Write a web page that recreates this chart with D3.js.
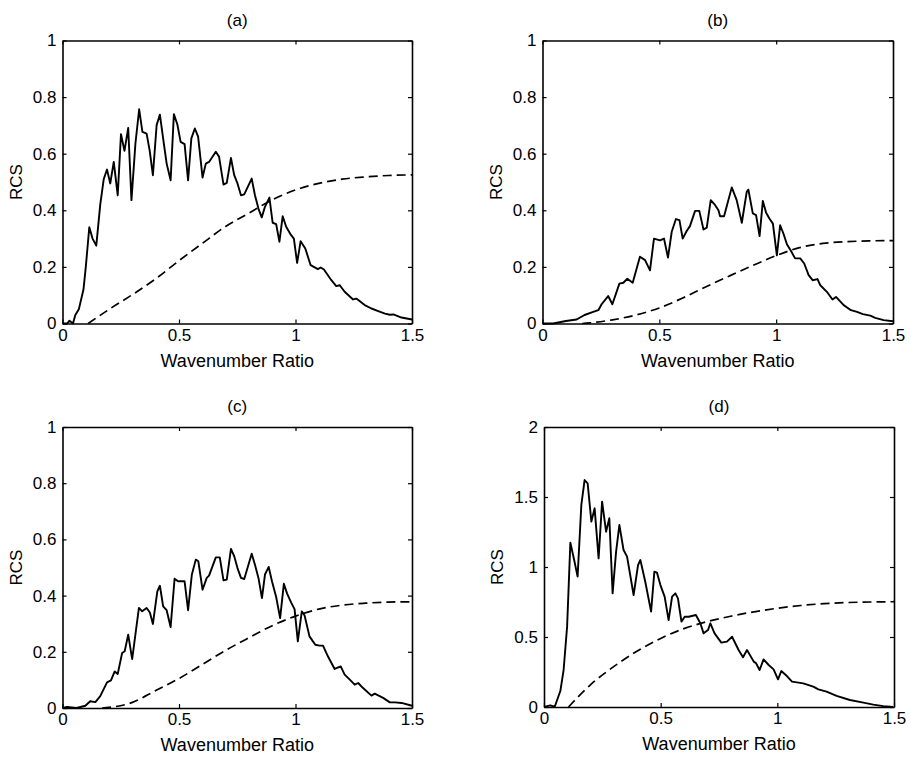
<!DOCTYPE html>
<html>
<head>
<meta charset="utf-8">
<script src="https://cdn.jsdelivr.net/npm/d3@7"></script>
<style>
  body { margin: 0; background: #fff; }
  svg text { font-family: "Liberation Sans", Arial, Helvetica, sans-serif; fill: #000; }
</style>
</head>
<body>
<svg id="chart" width="911" height="763"></svg>
<script>
const xTicks = [0, 0.5, 1, 1.5];
const yTicksSmall = [0, 0.2, 0.4, 0.6, 0.8, 1];
const yTicksLarge = [0, 0.5, 1, 1.5, 2];
const titles = ['(a)', '(b)', '(c)', '(d)'];
const xLabel = 'Wavenumber Ratio';
const yLabel = 'RCS';

// solid curves as [ratio, rcs]
const solidA = [[0,0],[0.02,0],[0.03,0.01],[0.045,0],[0.055,0.03],[0.07,0.05],[0.09,0.12],[0.1,0.2],
  [0.115,0.34],[0.129,0.3],[0.145,0.275],[0.162,0.42],[0.177,0.51],[0.191,0.544],[0.205,0.495],
  [0.22,0.571],[0.237,0.453],[0.251,0.669],[0.266,0.61],[0.282,0.691],[0.296,0.436],[0.313,0.636],
  [0.329,0.757],[0.343,0.677],[0.361,0.671],[0.374,0.612],[0.388,0.524],[0.404,0.701],[0.418,0.738],
  [0.435,0.636],[0.447,0.565],[0.464,0.506],[0.478,0.74],[0.493,0.703],[0.507,0.642],[0.524,0.634],
  [0.539,0.506],[0.553,0.654],[0.568,0.689],[0.582,0.66],[0.601,0.516],[0.615,0.565],[0.629,0.571],
  [0.658,0.607],[0.672,0.589],[0.691,0.491],[0.705,0.497],[0.723,0.585],[0.737,0.524],[0.751,0.495],
  [0.766,0.453],[0.78,0.456],[0.812,0.512],[0.826,0.453],[0.841,0.406],[0.855,0.375],[0.868,0.41],
  [0.888,0.445],[0.902,0.356],[0.917,0.351],[0.931,0.289],[0.945,0.379],[0.96,0.342],[0.978,0.316],
  [0.993,0.3],[1.007,0.214],[1.022,0.291],[1.042,0.265],[1.065,0.206],[1.096,0.192],[1.108,0.198],
  [1.122,0.191],[1.154,0.153],[1.175,0.132],[1.19,0.135],[1.211,0.112],[1.247,0.085],[1.261,0.088],
  [1.297,0.065],[1.326,0.053],[1.355,0.044],[1.384,0.035],[1.405,0.031],[1.42,0.032],[1.455,0.021],[1.5,0.014]];

const solidB = [[0,0],[0.046,0],[0.1,0.009],[0.146,0.014],[0.18,0.03],[0.217,0.041],[0.239,0.047],
  [0.253,0.068],[0.281,0.097],[0.299,0.068],[0.329,0.141],[0.346,0.144],[0.363,0.158],[0.386,0.144],
  [0.417,0.236],[0.439,0.224],[0.46,0.188],[0.477,0.3],[0.503,0.294],[0.52,0.3],[0.537,0.233],
  [0.553,0.324],[0.571,0.369],[0.586,0.365],[0.6,0.3],[0.617,0.327],[0.631,0.344],[0.653,0.398],
  [0.671,0.398],[0.689,0.332],[0.703,0.339],[0.72,0.436],[0.739,0.418],[0.753,0.4],[0.76,0.379],
  [0.777,0.379],[0.81,0.481],[0.831,0.436],[0.853,0.356],[0.874,0.465],[0.881,0.473],[0.9,0.389],
  [0.914,0.383],[0.929,0.309],[0.943,0.433],[0.957,0.391],[0.971,0.371],[0.986,0.353],[1.003,0.241],
  [1.017,0.347],[1.031,0.318],[1.046,0.28],[1.063,0.257],[1.081,0.23],[1.103,0.23],[1.12,0.212],
  [1.139,0.171],[1.156,0.153],[1.177,0.157],[1.189,0.135],[1.217,0.112],[1.241,0.085],[1.256,0.094],
  [1.289,0.065],[1.32,0.047],[1.346,0.041],[1.371,0.033],[1.403,0.028],[1.424,0.02],[1.46,0.012],[1.5,0.008]];

const solidC = [[0,0],[0.02,0.004],[0.06,0],[0.098,0.008],[0.119,0.024],[0.141,0.021],[0.162,0.042],
  [0.191,0.091],[0.208,0.098],[0.224,0.13],[0.237,0.121],[0.256,0.196],[0.267,0.202],[0.282,0.261],
  [0.299,0.174],[0.328,0.356],[0.342,0.344],[0.361,0.356],[0.375,0.34],[0.388,0.299],[0.407,0.415],
  [0.418,0.435],[0.432,0.362],[0.447,0.348],[0.464,0.288],[0.481,0.46],[0.496,0.451],[0.524,0.451],
  [0.539,0.348],[0.555,0.474],[0.572,0.528],[0.583,0.522],[0.601,0.421],[0.619,0.463],[0.629,0.471],
  [0.658,0.536],[0.675,0.536],[0.691,0.454],[0.705,0.457],[0.723,0.566],[0.737,0.54],[0.751,0.498],
  [0.766,0.463],[0.78,0.459],[0.812,0.549],[0.826,0.51],[0.841,0.463],[0.856,0.391],[0.869,0.475],
  [0.885,0.502],[0.899,0.451],[0.917,0.395],[0.934,0.32],[0.95,0.442],[0.964,0.407],[0.981,0.376],
  [0.996,0.352],[1.01,0.237],[1.027,0.344],[1.039,0.329],[1.06,0.255],[1.085,0.225],[1.103,0.222],
  [1.118,0.222],[1.139,0.184],[1.168,0.139],[1.194,0.148],[1.211,0.119],[1.233,0.101],[1.254,0.083],
  [1.269,0.089],[1.29,0.071],[1.326,0.044],[1.34,0.051],[1.376,0.036],[1.405,0.02],[1.427,0.02],
  [1.455,0.018],[1.5,0.008]];

const solidD = [[0,0],[0.027,0.012],[0.046,0.002],[0.07,0.114],[0.084,0.264],[0.099,0.574],[0.113,1.174],
  [0.13,1.045],[0.144,0.931],[0.16,1.443],[0.174,1.621],[0.187,1.598],[0.203,1.324],[0.217,1.419],
  [0.234,1.062],[0.249,1.467],[0.266,1.252],[0.28,1.348],[0.294,0.812],[0.309,1.11],[0.323,1.3],
  [0.341,1.121],[0.356,1.074],[0.384,0.8],[0.403,1.014],[0.413,1.05],[0.434,0.895],[0.459,0.681],
  [0.473,0.967],[0.484,0.96],[0.499,0.871],[0.517,0.788],[0.534,0.621],[0.549,0.788],[0.563,0.812],
  [0.574,0.776],[0.589,0.61],[0.603,0.645],[0.62,0.645],[0.651,0.657],[0.67,0.598],[0.684,0.526],
  [0.703,0.55],[0.713,0.598],[0.731,0.526],[0.76,0.46],[0.784,0.467],[0.806,0.502],[0.834,0.407],
  [0.853,0.355],[0.87,0.407],[0.899,0.324],[0.909,0.312],[0.924,0.264],[0.941,0.34],[0.963,0.3],
  [0.984,0.269],[1.003,0.198],[1.017,0.257],[1.041,0.221],[1.063,0.181],[1.111,0.169],[1.154,0.145],
  [1.176,0.126],[1.211,0.11],[1.254,0.079],[1.311,0.05],[1.369,0.031],[1.411,0.017],[1.454,0.006],[1.497,0]];

// dashed curves
const dashA = [[0.11,0],[0.2,0.05],[0.3,0.102],[0.4,0.158],[0.5,0.222],[0.6,0.283],[0.7,0.343],
  [0.8,0.39],[0.9,0.437],[1.0,0.472],[1.1,0.495],[1.2,0.51],[1.3,0.518],[1.4,0.523],[1.5,0.525]];
const dashB = [[0.17,0],[0.2,0.002],[0.3,0.013],[0.4,0.03],[0.5,0.055],[0.6,0.09],[0.7,0.13],
  [0.8,0.168],[0.9,0.205],[1.0,0.24],[1.1,0.268],[1.2,0.283],[1.3,0.289],[1.4,0.292],[1.5,0.293]];
const dashC = [[0.17,0],[0.2,0.002],[0.3,0.02],[0.4,0.062],[0.5,0.105],[0.6,0.155],[0.7,0.205],
  [0.8,0.25],[0.9,0.293],[1.0,0.327],[1.1,0.352],[1.2,0.366],[1.3,0.373],[1.4,0.377],[1.5,0.378]];
const dashD = [[0.105,0],[0.2,0.16],[0.3,0.29],[0.4,0.4],[0.5,0.49],[0.6,0.56],[0.7,0.61],
  [0.8,0.648],[0.9,0.68],[1.0,0.705],[1.1,0.725],[1.2,0.738],[1.3,0.746],[1.4,0.75],[1.5,0.752]];

const panels = [
  {title: titles[0], left: 62.5, top: 40.5, w: 349.5, h: 283, ymax: 1, yt: yTicksSmall, solid: solidA, dash: dashA},
  {title: titles[1], left: 542.5, top: 40.5, w: 350.5, h: 283, ymax: 1, yt: yTicksSmall, solid: solidB, dash: dashB},
  {title: titles[2], left: 62.5, top: 427, w: 349.5, h: 281, ymax: 1, yt: yTicksSmall, solid: solidC, dash: dashC},
  {title: titles[3], left: 544, top: 427, w: 350, h: 280, ymax: 2, yt: yTicksLarge, solid: solidD, dash: dashD}
];

const svg = d3.select('#chart');
const fmt = d3.format('~g');

panels.forEach(function (p) {
  var xs = d3.scaleLinear().domain([0, 1.5]).range([0, p.w]);
  var ys = d3.scaleLinear().domain([0, p.ymax]).range([p.h, 0]);
  var g = svg.append('g').attr('transform', 'translate(' + p.left + ',' + p.top + ')');

  var line = d3.line().x(function (d) { return xs(d[0]); }).y(function (d) { return ys(d[1]); });
  var smooth = d3.line().curve(d3.curveMonotoneX)
    .x(function (d) { return xs(d[0]); }).y(function (d) { return ys(d[1]); });

  g.append('path').attr('d', smooth(p.dash))
    .attr('fill', 'none').attr('stroke', '#000').attr('stroke-width', 1.7)
    .attr('stroke-dasharray', '9,5');
  g.append('path').attr('d', line(p.solid))
    .attr('fill', 'none').attr('stroke', '#000').attr('stroke-width', 1.9)
    .attr('stroke-linejoin', 'round');

  // box axes, ticks pointing in
  g.append('g').attr('transform', 'translate(0,' + p.h + ')')
    .call(d3.axisBottom(xs).tickValues(xTicks).tickFormat(fmt).tickSizeInner(-4).tickSizeOuter(0).tickPadding(5));
  g.append('g')
    .call(d3.axisTop(xs).tickValues(xTicks).tickFormat('').tickSizeInner(-4).tickSizeOuter(0));
  g.append('g')
    .call(d3.axisLeft(ys).tickValues(p.yt).tickFormat(fmt).tickSizeInner(-4).tickSizeOuter(0).tickPadding(6));
  g.append('g').attr('transform', 'translate(' + p.w + ',0)')
    .call(d3.axisRight(ys).tickValues(p.yt).tickFormat('').tickSizeInner(-4).tickSizeOuter(0));

  g.selectAll('.domain').attr('stroke', '#000').attr('stroke-width', 1.6);
  g.selectAll('.tick line').attr('stroke', '#000').attr('stroke-width', 1.2);
  g.selectAll('.tick text').attr('font-size', 17).attr('fill', '#000');

  g.append('text').attr('x', p.w / 2).attr('y', -15).attr('text-anchor', 'middle')
    .attr('font-size', 17).text(p.title);
  g.append('text').attr('x', p.w / 2).attr('y', p.h + 43).attr('text-anchor', 'middle')
    .attr('font-size', 18).text(xLabel);
  g.append('text').attr('transform', 'translate(-41,' + (p.h / 2) + ') rotate(-90)')
    .attr('text-anchor', 'middle').attr('font-size', 17).text(yLabel);
});
</script>
</body>
</html>
